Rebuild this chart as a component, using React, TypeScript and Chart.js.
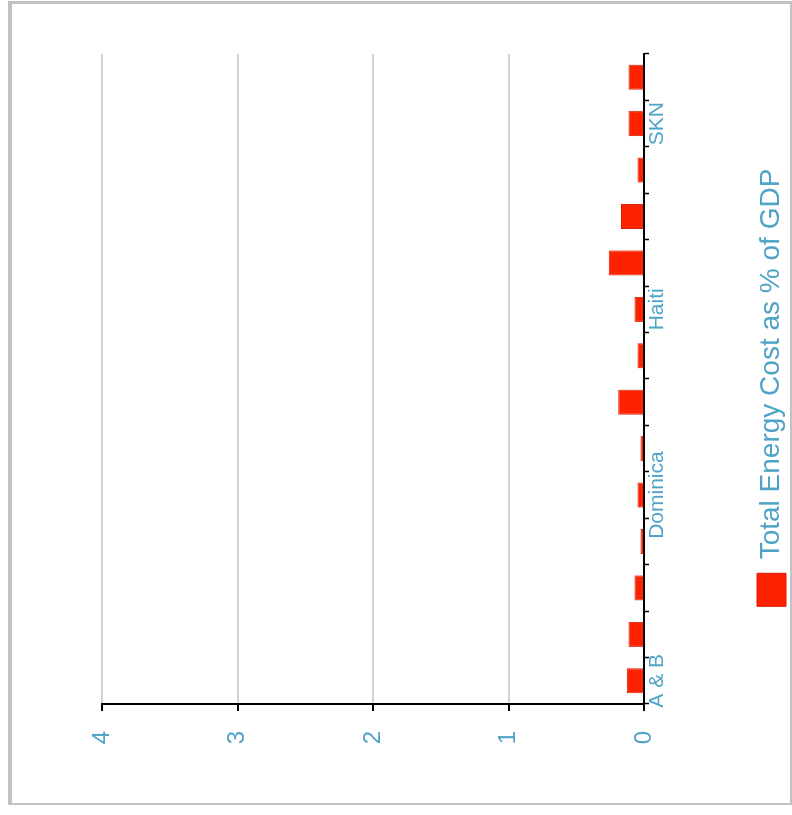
import { useEffect, useRef } from "react";
import { Chart, registerables } from "chart.js";

Chart.register(...registerables);

// ---- data ----
const categories = [
  "A & B",
  "Bahamas",
  "Barbados",
  "Belize",
  "Dominica",
  "Dom. Rep.",
  "Grenada",
  "Guyana",
  "Haiti",
  "Jamaica",
  "Montserrat",
  "St. Lucia",
  "SKN",
  "SVG",
];
const energyCostPct = [0.128, 0.114, 0.07, 0.026, 0.048, 0.026, 0.19, 0.048, 0.07, 0.26, 0.17, 0.048, 0.114, 0.114];
const shownCategoryLabels = ["A & B", "Dominica", "Haiti", "SKN"];
const seriesLabel = "Total Energy Cost as % of GDP";
const valueMin = 0;
const valueMax = 4;
const valueStep = 1;

// ---- layout (unrotated canvas, shown rotated 90° counter-clockwise) ----
const W = 826;
const H = 784;
const BLUE = "#4fa3c7";
const FONT = "'Liberation Sans', Arial, sans-serif";

export default function App() {
  const ref = useRef<HTMLCanvasElement>(null);

  useEffect(() => {
    const chart = new Chart(ref.current as HTMLCanvasElement, {
      type: "bar",
      data: {
        labels: categories,
        datasets: [
          {
            label: seriesLabel,
            data: energyCostPct,
            backgroundColor: "#ff2200",
            borderColor: "#d81c00",
            borderWidth: 1,
            categoryPercentage: 1,
            barPercentage: 0.54,
            yAxisID: "y",
          },
        ],
      },
      options: {
        responsive: false,
        animation: false,
        layout: { padding: { left: 80, right: 21, top: 90, bottom: 0 } },
        plugins: {
          tooltip: { enabled: false },
          legend: {
            position: "bottom",
            labels: {
              boxWidth: 33,
              boxHeight: 29,
              padding: 10,
              color: BLUE,
              font: { family: FONT, size: 28 },
            },
          },
        },
        scales: {
          x: {
            grid: {
              drawOnChartArea: false,
              drawTicks: true,
              tickLength: 5,
              tickColor: "#000",
              tickWidth: 1.5,
              offset: true,
            },
            border: { color: "#000", width: 2 },
            ticks: {
              autoSkip: false,
              maxRotation: 0,
              minRotation: 0,
              padding: -4,
              color: BLUE,
              font: { family: FONT, size: 21 },
              callback: (_v: any, i: number) =>
                shownCategoryLabels.includes(categories[i]) ? categories[i] : "",
            },
            afterFit: (s: any) => {
              s.height = 103;
            },
          },
          y: {
            position: "left",
            min: valueMin,
            max: valueMax,
            ticks: {
              stepSize: valueStep,
              padding: 20,
              color: BLUE,
              font: { family: FONT, size: 24 },
            },
            grid: {
              color: (ctx: any) => (ctx.tick && ctx.tick.value === 0 ? "#000" : "#d3d3d3"),
              lineWidth: 2,
              tickColor: "#000",
              tickLength: 7,
              tickWidth: 2,
            },
            border: { color: "#000", width: 2 },
            afterFit: (s: any) => {
              s.width = 46;
            },
          },
          spacer: {
            type: "linear",
            position: "right",
            min: valueMin,
            max: valueMax,
            ticks: { display: false },
            grid: { display: false },
            border: { display: false },
            afterFit: (s: any) => {
              s.width = 29;
            },
          },
        },
      },
    });
    return () => chart.destroy();
  }, []);

  return (
    <div
      style={{
        position: "absolute",
        left: 8,
        top: 1,
        width: 784,
        height: 804,
        boxSizing: "border-box",
        borderStyle: "solid",
        borderColor: "#c2c2c2",
        borderWidth: "3px 2px 2px 4px",
        overflow: "hidden",
        background: "#fff",
      }}
    >
      <canvas
        ref={ref}
        width={W}
        height={H}
        style={{
          position: "absolute",
          left: 0,
          top: 0,
          width: W,
          height: H,
          transformOrigin: "0 0",
          transform: `translateY(${W}px) rotate(-90deg)`,
        }}
      />
    </div>
  );
}
